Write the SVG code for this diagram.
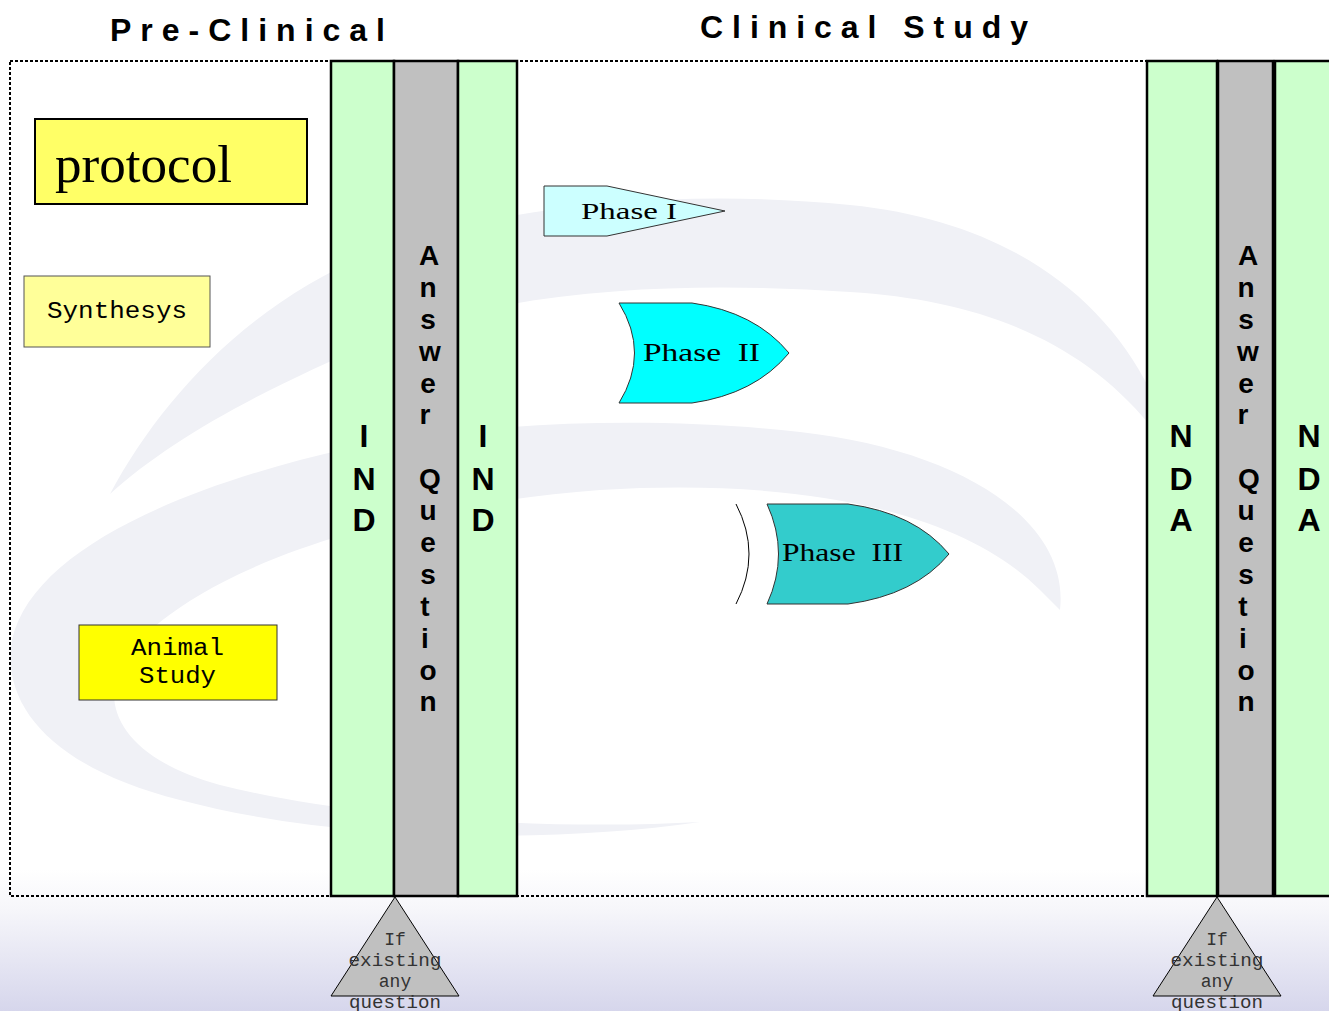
<svg xmlns="http://www.w3.org/2000/svg" width="1329" height="1011" viewBox="0 0 1329 1011">
<defs>
<linearGradient id="bg" x1="0" y1="0" x2="0" y2="1">
<stop offset="0" stop-color="#ffffff"/>
<stop offset="0.86" stop-color="#ffffff"/>
<stop offset="0.9" stop-color="#f6f6fa"/>
<stop offset="1" stop-color="#d6d6ec"/>
</linearGradient>
<style>
.title{font-family:"Liberation Sans",Arial,sans-serif;font-weight:bold;font-size:32px;fill:#000}
.col{stroke:#000;stroke-width:2.5}
.green{fill:#ccffcc}
.gray{fill:#c0c0c0}
.vt{font-family:"Liberation Sans",Arial,sans-serif;font-weight:bold;font-size:32px;text-anchor:middle;fill:#000}
.aq{font-family:"Liberation Sans",Arial,sans-serif;font-weight:bold;font-size:28px;text-anchor:middle;fill:#000}
.mono{font-family:"Liberation Mono","DejaVu Sans Mono",monospace;fill:#000}
.serif{font-family:"Liberation Serif","Times New Roman",serif;fill:#000}
.tri{fill:#c0c0c0;stroke:#000;stroke-width:1}
.tt{font-family:"Liberation Mono","DejaVu Sans Mono",monospace;font-size:18px;text-anchor:middle;fill:#333}
.swoosh{fill:#f0f1f6}
</style>
</defs>
<rect x="0" y="0" width="1329" height="1011" fill="url(#bg)"/>
<!-- watermark -->
<path class="swoosh" d="M110,494 C160,400 250,300 380,250 C520,200 700,190 850,205 C1000,220 1100,290 1150,390 L1150,425 C1080,340 980,300 850,292 C700,282 520,285 380,340 C260,390 170,440 110,494 Z"/>
<path class="swoosh" d="M1060,610 C1070,520 960,450 800,432 C650,415 450,420 300,460 C150,500 30,560 12,640 C0,710 60,770 180,800 C330,840 540,845 700,822 C560,830 360,820 220,785 C110,755 90,690 140,640 C220,560 400,505 600,490 C800,478 960,510 1040,590 Z"/>
<rect x="10" y="61" width="1137" height="835" fill="none" stroke="#000" stroke-width="2" stroke-dasharray="3 2"/>
<text class="title" x="110" y="41" textLength="275" lengthAdjust="spacing">Pre-Clinical</text>
<text class="title" x="700" y="38" textLength="328" lengthAdjust="spacing">Clinical Study</text>
<g id="protocol">
<rect x="35" y="119" width="272" height="85" fill="#ffff66" stroke="#000" stroke-width="2"/>
<text class="serif" x="55" y="182" font-size="52" textLength="177" lengthAdjust="spacingAndGlyphs">protocol</text>
</g>
<g id="synthesys">
<rect x="24" y="276" width="186" height="71" fill="#ffff99" stroke="#555" stroke-width="1"/>
<text class="mono" x="47" y="318" font-size="23" textLength="140" lengthAdjust="spacingAndGlyphs">Synthesys</text>
</g>
<g id="animal-study">
<rect x="79" y="625" width="198" height="75" fill="#ffff00" stroke="#333" stroke-width="1"/>
<text class="mono" x="131" y="655" font-size="23" textLength="93" lengthAdjust="spacingAndGlyphs">Animal</text>
<text class="mono" x="139" y="683" font-size="23" textLength="77" lengthAdjust="spacingAndGlyphs">Study</text>
</g>
<g id="ind">
<rect class="col green" x="331" y="61" width="63" height="835"/>
<rect class="col gray" x="394" y="61" width="64" height="835"/>
<rect class="col green" x="458" y="61" width="59" height="835"/>
<text class="vt" x="364" y="447">I</text><text class="vt" x="364" y="490">N</text><text class="vt" x="364" y="531">D</text>
<text class="vt" x="483" y="447">I</text><text class="vt" x="483" y="490">N</text><text class="vt" x="483" y="531">D</text>
<g class="aq">
<text x="429" y="265">A</text><text x="428" y="297">n</text><text x="428" y="329">s</text><text x="430" y="361">w</text><text x="428" y="393">e</text><text x="425" y="424">r</text>
<text x="430" y="488">Q</text><text x="428" y="520">u</text><text x="428" y="552">e</text><text x="428" y="584">s</text><text x="425" y="616">t</text><text x="425" y="648">i</text><text x="428" y="680">o</text><text x="428" y="711">n</text>
</g>
</g>
<g id="nda">
<rect class="col green" x="1147" y="61" width="70" height="835" stroke-width="3"/>
<rect class="col gray" x="1218" y="61" width="55" height="835" stroke-width="3"/>
<rect class="col green" x="1275" y="61" width="60" height="835" stroke-width="3"/>
<text class="vt" x="1181" y="447">N</text><text class="vt" x="1181" y="490">D</text><text class="vt" x="1181" y="531">A</text>
<text class="vt" x="1309" y="447">N</text><text class="vt" x="1309" y="490">D</text><text class="vt" x="1309" y="531">A</text>
<g class="aq">
<text x="1248" y="265">A</text><text x="1246" y="297">n</text><text x="1246" y="329">s</text><text x="1248" y="361">w</text><text x="1246" y="393">e</text><text x="1243" y="424">r</text>
<text x="1249" y="488">Q</text><text x="1246" y="520">u</text><text x="1246" y="552">e</text><text x="1246" y="584">s</text><text x="1243" y="616">t</text><text x="1243" y="648">i</text><text x="1246" y="680">o</text><text x="1246" y="711">n</text>
</g>
</g>
<g id="phase1">
<polygon points="544,186 607,186 725,211 607,236 544,236" fill="#ccffff" stroke="#333" stroke-width="1"/>
<text class="serif" x="581" y="219" font-size="24" textLength="96" lengthAdjust="spacingAndGlyphs">Phase I</text>
</g>
<g id="phase2">
<path d="M619,303 L692,303 Q755,312 789,353 Q755,394 692,403 L619,403 Q650,353 619,303 Z" fill="#00ffff" stroke="#333" stroke-width="1"/>
<text class="serif" x="643" y="361" font-size="25" textLength="117" lengthAdjust="spacingAndGlyphs" xml:space="preserve">Phase  II</text>
</g>
<g id="phase3">
<path d="M736,504 Q762,554 736,604" fill="none" stroke="#000" stroke-width="1"/>
<path d="M767,504 L848,504 Q915,513 949,554 Q915,595 848,604 L767,604 Q790,554 767,504 Z" fill="#33cccc" stroke="#333" stroke-width="1"/>
<text class="serif" x="782" y="561" font-size="25" textLength="121" lengthAdjust="spacingAndGlyphs" xml:space="preserve">Phase  III</text>
</g>
<g id="question1">
<polygon class="tri" points="395,897 331,996 459,996"/>
<text class="tt" x="395" y="945">If</text>
<text class="tt" x="395" y="966" textLength="93" lengthAdjust="spacingAndGlyphs">existing</text>
<text class="tt" x="395" y="987">any</text>
<text class="tt" x="395" y="1008" textLength="92" lengthAdjust="spacingAndGlyphs">question</text>
</g>
<g id="question2">
<polygon class="tri" points="1217,897 1153,996 1281,996"/>
<text class="tt" x="1217" y="945">If</text>
<text class="tt" x="1217" y="966" textLength="93" lengthAdjust="spacingAndGlyphs">existing</text>
<text class="tt" x="1217" y="987">any</text>
<text class="tt" x="1217" y="1008" textLength="92" lengthAdjust="spacingAndGlyphs">question</text>
</g>
<g id="connectors"></g>
</svg>
